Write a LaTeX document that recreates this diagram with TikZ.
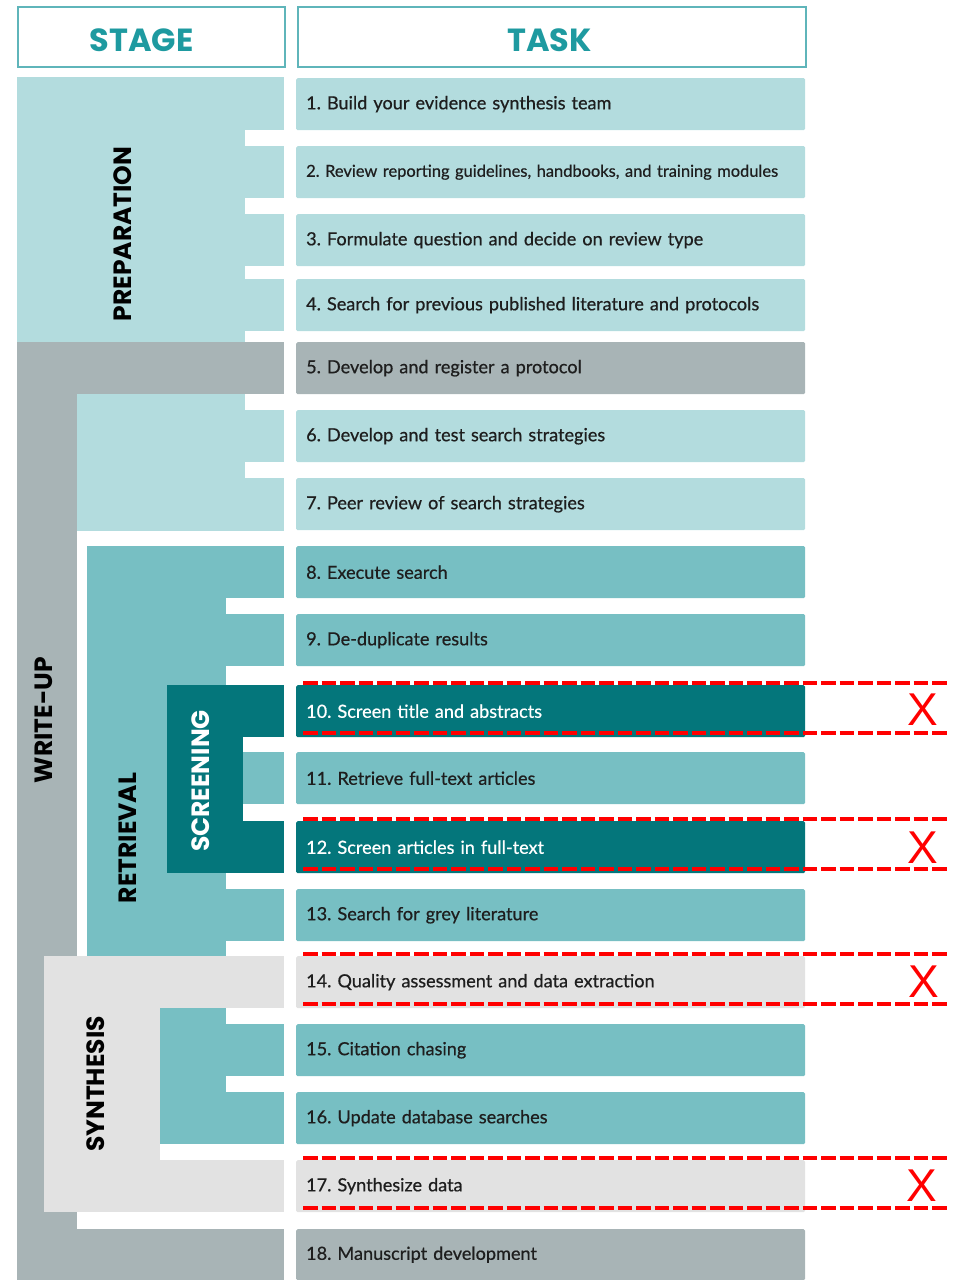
\documentclass[tikz,border=0pt]{standalone}
\usepackage{fontspec}
\setmainfont{Lato}
\newfontfamily\taskfont{Lato}[FakeBold=0.6]
\newfontfamily\headfont{Poppins}
\newfontfamily\xfont{Liberation Sans}
\frenchspacing
\definecolor{cLt}{HTML}{B3DCDE}
\definecolor{cG}{HTML}{A8B4B6}
\definecolor{cM}{HTML}{77BFC3}
\definecolor{cD}{HTML}{04767B}
\definecolor{cLG}{HTML}{E2E2E2}
\definecolor{cHead}{HTML}{1E9AA0}
\definecolor{cHeadLine}{HTML}{5FB5BA}
\definecolor{cTxt}{HTML}{1E1E1E}
\tikzset{
  headbox/.style={draw=cHeadLine, line width=2pt, anchor=north west, minimum height=60pt, inner sep=0pt},
  headtext/.style={font=\headfont\bfseries\fontsize{32}{36}\selectfont, text=cHead, inner sep=0pt},
  taskbox/.style={anchor=north west, minimum width=509pt, minimum height=52pt, text width=489pt,
    inner xsep=10pt, inner ysep=0pt, align=left, rounded corners=1.5pt,
    font=\taskfont\fontsize{18.1}{21}\selectfont, text=cTxt},
  stagelabel/.style={rotate=90, font=\headfont\bfseries\fontsize{25}{28}\selectfont, text=black, inner sep=0pt},
  cutline/.style={draw=red, line width=3.5pt, dash pattern=on 14.5pt off 4pt},
  xmark/.style={text=red, font=\xfont\fontsize{46}{46}\selectfont, inner sep=0pt}
}
\begin{document}
\begin{tikzpicture}[x=1pt,y=-1pt]
\useasboundingbox (0,0) rectangle (962,1280);
% ---------- stage shapes ----------
% Preparation
\fill[cLt] (17,77) rectangle (245,342);
\foreach \a/\b in {77/130,146/198,214/266,279/331} \fill[cLt] (245,\a) rectangle (284,\b);
% Write-up
\fill[cG] (17,342) rectangle (284,394);
\fill[cG] (17,342) rectangle (77,1280);
\fill[cG] (17,1229) rectangle (284,1280);
% rows 6-7 block
\fill[cLt] (77,394) rectangle (245,531);
\fill[cLt] (245,410) rectangle (284,462);
\fill[cLt] (245,478) rectangle (284,531);
% Retrieval
\fill[cM] (87,546) rectangle (226,956);
\foreach \a/\b in {546/598,614/666,889/941} \fill[cM] (226,\a) rectangle (284,\b);
\fill[cM] (243,752) rectangle (284,804);
% Screening
\fill[cD] (167,685) rectangle (243,873);
\fill[cD] (243,685) rectangle (284,737);
\fill[cD] (243,821) rectangle (284,873);
% Synthesis
\fill[cLG] (44,956) rectangle (160,1212);
\fill[cLG] (160,956) rectangle (284,1008);
\fill[cLG] (160,1160) rectangle (284,1212);
\fill[cM] (160,1008) rectangle (226,1144);
\fill[cM] (226,1024) rectangle (284,1076);
\fill[cM] (226,1092) rectangle (284,1144);
% ---------- stage labels ----------
\node[stagelabel] (lprep) at (122.5,234) {PREPARATION};
\node[stagelabel] (lwrite) at (44,720) {WRITE-UP};
\node[stagelabel] (lretr) at (127.5,838) {RETRIEVAL};
\node[stagelabel, text=white] (lscreen) at (201,781) {SCREENING};
\node[stagelabel] (lsynth) at (95.5,1084) {SYNTHESIS};
% ---------- headers ----------
\node[headbox, minimum width=267pt] (hstage) at (17,6) {};
\node[headbox, minimum width=508pt] (htask) at (297,6) {};
\node[headtext] (hstagetxt) at (141.5,40) {STAGE};
\node[headtext] (htasktxt) at (549.5,40) {TASK};
% ---------- tasks ----------
\node[taskbox, fill=cLt] (t1) at (296,78) {1. Build your evidence synthesis team};
\node[taskbox, fill=cLt, font=\taskfont\fontsize{16.45}{19}\selectfont] (t2) at (296,146) {2. Review reporting guidelines, handbooks, and training modules};
\node[taskbox, fill=cLt] (t3) at (296,214) {3. Formulate question and decide on review type};
\node[taskbox, fill=cLt] (t4) at (296,279) {4. Search for previous published literature and protocols};
\node[taskbox, fill=cG] (t5) at (296,342) {5. Develop and register a protocol};
\node[taskbox, fill=cLt] (t6) at (296,410) {6. Develop and test search strategies};
\node[taskbox, fill=cLt] (t7) at (296,478) {7. Peer review of search strategies};
\node[taskbox, fill=cM] (t8) at (296,546) {8. Execute search};
\node[taskbox, fill=cM] (t9) at (296,614) {9. De-duplicate results};
\node[taskbox, fill=cD, text=white] (t10) at (296,685) {10. Screen title and abstracts};
\node[taskbox, fill=cM] (t11) at (296,752) {11. Retrieve full-text articles};
\node[taskbox, fill=cD, text=white] (t12) at (296,821) {12. Screen articles in full-text};
\node[taskbox, fill=cM] (t13) at (296,889) {13. Search for grey literature};
\node[taskbox, fill=cLG] (t14) at (296,956) {14. Quality assessment and data extraction};
\node[taskbox, fill=cM] (t15) at (296,1024) {15. Citation chasing};
\node[taskbox, fill=cM] (t16) at (296,1092) {16. Update database searches};
\node[taskbox, fill=cLG] (t17) at (296,1160) {17. Synthesize data};
\node[taskbox, fill=cG, minimum height=51pt] (t18) at (296,1229) {18. Manuscript development};
% ---------- red cut marks ----------
\foreach \t in {t10,t12,t14,t17}{
  \draw[cutline] ([xshift=7pt,yshift=2pt]\t.north west) -- ([xshift=654pt,yshift=2pt]\t.north west);
  \draw[cutline] ([xshift=7pt,yshift=4.5pt]\t.south west) -- ([xshift=654pt,yshift=4.5pt]\t.south west);
}
\node[xmark] (x10) at (923,710) {X};
\node[xmark] (x12) at (923,848) {X};
\node[xmark] (x14) at (924,982) {X};
\node[xmark] (x17) at (922,1186) {X};
\end{tikzpicture}
\end{document}
